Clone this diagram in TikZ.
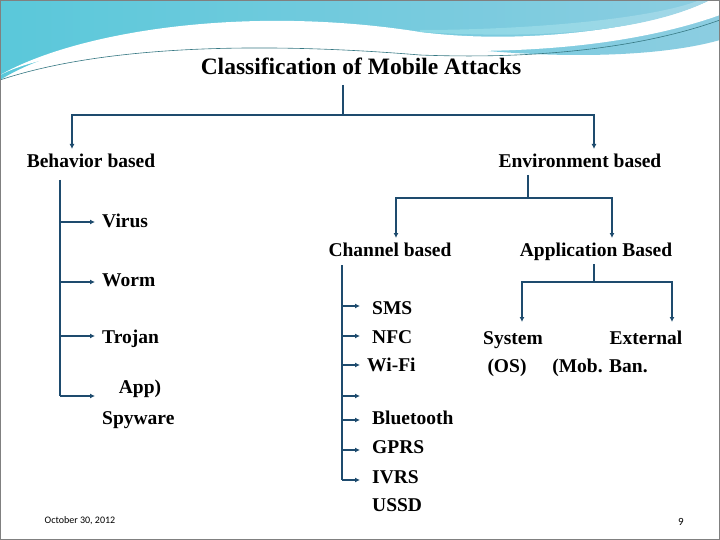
\documentclass[tikz,border=0pt]{standalone}
\usepackage{fontspec}
\setmainfont{Liberation Serif}[BoldFont={Liberation Serif Bold}]
\newfontfamily\datefont{Carlito}
\usetikzlibrary{arrows.meta}
\definecolor{ln}{RGB}{30,75,110}
\definecolor{cyanA}{RGB}{90,200,218}
\definecolor{cyanB}{RGB}{140,205,225}
\tikzset{
  lbl/.style={font=\bfseries\fontsize{19.5}{22}\selectfont, inner sep=0pt, anchor=base},
  lblL/.style={lbl, anchor=base west},
  conn/.style={draw=ln, line width=1.3pt},
  arr/.style={conn, -{Latex[length=5pt,width=5pt]}}
}
\begin{document}
\begin{tikzpicture}[x=1pt,y=-1pt]
\useasboundingbox (0,0) rectangle (720,540);
\fill[white] (0,0) rectangle (720,540);
% banner
\shade[left color=cyanA, right color=cyanB] (0,0) -- (720,0) -- (720,40) .. controls (650,60) and (520,60) .. (400,40) .. controls (250,15) and (80,30) .. (0,80) -- cycle;
\fill[white] (0,75) .. controls (80,35) and (250,50) .. (420,50) .. controls (550,55) and (650,40) .. (720,15) -- (720,0) -- (710,0) .. controls (650,30) and (520,45) .. (420,32) .. controls (250,5) and (80,30) .. (0,75) -- cycle;
\shade[left color=cyanA!70, right color=cyanB!80] (710,0) .. controls (650,30) and (550,40) .. (420,32) -- (420,30) .. controls (520,30) and (650,20) .. (700,0) -- cycle;
\draw[cyanA!60!black, line width=0.6pt] (0,80) .. controls (120,40) and (300,45) .. (420,55) .. controls (550,60) and (650,45) .. (720,20);
\draw[gray, line width=1pt] (0.5,0.5) rectangle (719.5,539.5);

\node[font=\bfseries\fontsize{23.5}{26}\selectfont, inner sep=0pt, anchor=base] (title) at (361,75) {Classification of Mobile Attacks};
\node[lbl] (beh) at (91,168) {Behavior based};
\node[lbl] (env) at (580,168) {Environment based};
\node[lblL] (virus) at (102,227) {Virus};
\node[lblL] (worm) at (102,286) {Worm};
\node[lblL] (trojan) at (102,343) {Trojan};
\node[lbl] (app) at (140,393) {App)};
\node[lblL] (spy) at (102,424) {Spyware};
\node[lbl] (chan) at (390,256) {Channel based};
\node[lbl] (appb) at (596,256) {Application Based};
\node[lblL] (sms) at (372,314) {SMS};
\node[lblL] (nfc) at (372,343) {NFC};
\node[lblL] (wifi) at (367,371) {Wi-Fi};
\node[lblL] (bt) at (372,424) {Bluetooth};
\node[lblL] (gprs) at (372,453) {GPRS};
\node[lblL] (ivrs) at (372,483) {IVRS};
\node[lblL] (ussd) at (372,511) {USSD};
\node[lbl] (sys) at (513,344) {System};
\node[lbl] (ext) at (646,344) {External};
\node[lbl] (os) at (507,372) {(OS)};
\node[lbl] (mob) at (600,372) {(Mob. Ban.};
\node[font=\datefont\fontsize{10}{12}\selectfont, inner sep=0pt] (date) at (80,521) {October 30, 2012};
\node[font=\datefont\fontsize{11}{12}\selectfont, inner sep=0pt] (pg) at (681,522) {9};

% top level
\coordinate (t1) at (343,85);
\coordinate (t2) at (343,115);
\draw[conn] (t1) -- (t2);
\draw[arr] (t2) -| (72,149);
\draw[arr] (t2) -| (594,149);
% behavior
\draw[conn] (60,180) -- (60,396);
\foreach \y in {222,282,336,396} \draw[arr] (60,\y) -- (95,\y);
% environment
\coordinate (e1) at (528,175);
\coordinate (e2) at (528,198);
\draw[conn] (e1) -- (e2);
\draw[arr] (e2) -| (396,238);
\draw[arr] (e2) -| (612,238);
% channel
\draw[conn] (342,265) -- (342,480);
\foreach \y in {306,336,365,396,420,450,480} \draw[arr] (342,\y) -- (360,\y);
% application
\coordinate (a1) at (594,264);
\coordinate (a2) at (594,282);
\draw[conn] (a1) -- (a2);
\draw[arr] (a2) -| (522,322);
\draw[arr] (a2) -| (672,322);
\end{tikzpicture}
\end{document}
